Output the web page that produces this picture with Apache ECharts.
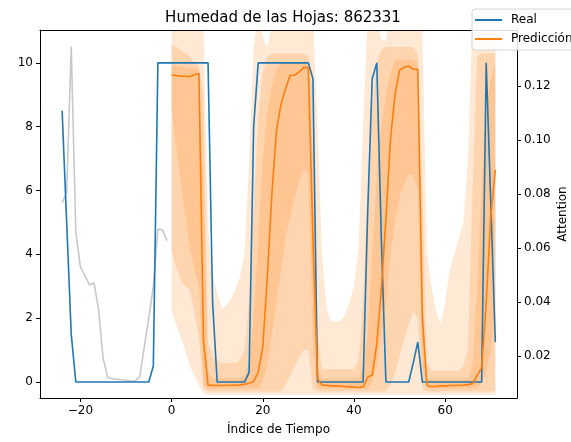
<!DOCTYPE html>
<html>
<head>
<meta charset="utf-8">
<script src="https://cdn.jsdelivr.net/npm/echarts@6/dist/echarts.min.js"></script>
<style>
  html, body { margin: 0; padding: 0; background: #fff; }
  #chart { width: 571px; height: 442px; }
</style>
</head>
<body>
<div id="chart"></div>
<script>
// Observed leaf-wetness values, starting at time index -24
const realStart = -24;
const realValues = [
  8.5, 5.0, 1.5,
  0, 0, 0, 0, 0, 0, 0, 0, 0, 0, 0, 0, 0, 0, 0, 0, 0,
  0.5,
  10, 10, 10, 10, 10, 10, 10, 10, 10, 10, 10, 10,
  2.5,
  0, 0, 0, 0, 0, 0, 0,
  0.3, 8.0,
  10, 10, 10, 10, 10, 10, 10, 10, 10, 10, 10, 10,
  9.5,
  0, 0, 0, 0, 0, 0, 0, 0, 0, 0, 0,
  5.3, 9.5, 10, 4.5,
  0, 0, 0, 0, 0, 0,
  0.6, 1.25,
  0, 0, 0, 0, 0, 0, 0, 0, 0, 0, 0, 0, 0, 0,
  10, 5.6, 1.25
];

// Median forecast, starting at time index 0
const predStart = 0;
const predValues = [
  9.62, 9.60, 9.58, 9.58, 9.57, 9.63, 9.67, 1.3,
  -0.1, -0.1, -0.11, -0.11, -0.1, -0.1, -0.1, -0.09,
  -0.07, -0.04, 0.02, 0.3, 1.1, 3.3, 5.9, 7.87,
  8.7, 9.2, 9.6, 9.62, 9.72, 9.86, 9.85, 4.5,
  0.1, -0.1, -0.1, -0.12, -0.12, -0.13, -0.14, -0.15,
  -0.16, -0.17, -0.15, 0.15, 0.22, 1.2, 2.9, 5.1,
  7.6, 9.0, 9.77, 9.86, 9.9, 9.8, 9.8, 2.0,
  -0.1, -0.15, -0.13, -0.12, -0.12, -0.11, -0.11, -0.1,
  -0.1, -0.08, -0.05, 0.2, 0.45, 2.5, 5.2, 6.65
];

// Forecast quantile bands (outer, middle, inner), same indices as the forecast
const outerLow = [
  2.2, 1.8, 1.4, 1.0, 0.5, 0.2, -0.1, -0.35,
  -0.4, -0.4, -0.4, -0.4, -0.4, -0.4, -0.4, -0.4,
  -0.4, -0.4, -0.4, -0.4, -0.4, -0.4, -0.4, -0.4,
  -0.4, -0.4, -0.4, -0.4, -0.4, -0.4, -0.4, -0.4,
  -0.4, -0.4, -0.4, -0.4, -0.4, -0.4, -0.4, -0.4,
  -0.4, -0.4, -0.4, -0.4, -0.4, -0.4, -0.4, -0.4,
  -0.4, -0.4, -0.4, -0.4, -0.4, -0.4, -0.4, -0.4,
  -0.4, -0.4, -0.4, -0.4, -0.4, -0.4, -0.4, -0.4,
  -0.4, -0.4, -0.4, -0.4, -0.4, -0.4, -0.4, -0.4
];
const outerHigh = [
  11.5, 11.5, 11.5, 11.5, 11.5, 11.5, 11.5, 11.0,
  4.8, 3.4, 2.8, 2.3, 2.4, 2.6, 2.9, 3.3,
  4.0, 6.9, 10.5, 11.5, 10.8, 10.5, 11.2, 11.5,
  11.5, 11.5, 11.5, 11.5, 11.5, 11.5, 11.5, 11.5,
  8.0, 4.0, 2.3, 1.9, 1.9, 1.9, 2.1, 2.5,
  3.0, 4.2, 8.0, 11.5, 11.5, 11.5, 10.7, 10.7,
  11.5, 11.5, 11.5, 11.5, 11.5, 11.5, 11.5, 11.0,
  4.0, 3.0, 2.2, 1.8, 2.5, 3.5, 4.0, 4.5,
  5.0, 7.0, 11.5, 11.5, 11.5, 11.5, 11.5, 11.5
];
const midLow = [
  4.1, 3.6, 3.2, 3.0, 2.9, 2.2, 1.4, -0.2,
  -0.3, -0.3, -0.3, -0.3, -0.3, -0.3, -0.3, -0.3,
  -0.3, -0.3, -0.3, -0.3, -0.3, -0.3, -0.3, -0.3,
  -0.3, -0.1, 0.2, 0.5, 0.8, 1.0, 1.0, -0.2,
  -0.3, -0.3, -0.3, -0.3, -0.3, -0.3, -0.3, -0.3,
  -0.3, -0.3, -0.3, -0.3, -0.3, -0.3, -0.3, -0.3,
  -0.1, 0.3, 0.8, 1.3, 1.8, 2.2, 2.0, -0.2,
  -0.3, -0.3, -0.3, -0.3, -0.3, -0.3, -0.3, -0.3,
  -0.3, -0.3, -0.3, -0.3, -0.3, -0.3, -0.3, -0.3
];
const midHigh = [
  10.6, 10.5, 10.4, 10.3, 10.2, 10.0, 9.9, 9.0,
  1.2, 0.8, 0.7, 0.6, 0.6, 0.6, 0.6, 0.7,
  1.0, 2.5, 5.5, 8.3, 9.7, 10.2, 10.3, 10.3,
  10.3, 10.3, 10.3, 10.3, 10.3, 10.3, 10.2, 9.0,
  1.5, 0.4, 0.4, 0.4, 0.4, 0.4, 0.4, 0.4,
  0.4, 0.7, 2.5, 6.0, 8.5, 10.0, 10.4, 10.5,
  10.5, 10.5, 10.5, 10.5, 10.5, 10.5, 10.3, 6.0,
  0.6, 0.35, 0.35, 0.35, 0.35, 0.35, 0.35, 0.35,
  0.5, 1.0, 6.0, 10.2, 10.3, 10.3, 10.3, 10.3
];
const innerLow = [
  8.6, 7.4, 6.3, 5.2, 4.2, 3.5, 3.0, -0.1,
  -0.2, -0.2, -0.2, -0.2, -0.2, -0.2, -0.2, -0.2,
  -0.2, -0.2, -0.2, -0.2, 0.0, 0.5, 1.5, 2.5,
  3.5, 4.5, 5.2, 5.8, 6.3, 6.7, 6.5, 1.0,
  -0.2, -0.2, -0.2, -0.2, -0.2, -0.2, -0.2, -0.2,
  -0.2, -0.2, -0.2, -0.2, 0.0, 0.5, 1.5, 2.5,
  4.0, 5.0, 5.8, 6.2, 6.5, 6.5, 6.0, 0.5,
  -0.2, -0.2, -0.2, -0.2, -0.2, -0.2, -0.2, -0.2,
  -0.2, -0.2, -0.2, -0.2, 0.0, 0.3, 1.0, 2.0
];
const innerHigh = [
  9.95, 9.9, 9.9, 9.85, 9.85, 9.85, 9.8, 6.0,
  0.3, 0.12, 0.12, 0.12, 0.12, 0.12, 0.12, 0.12,
  0.2, 0.6, 2.0, 4.5, 7.0, 8.5, 9.3, 9.8,
  10.0, 10.0, 10.0, 10.0, 10.0, 10.0, 10.0, 7.0,
  0.5, 0.1, 0.1, 0.1, 0.1, 0.1, 0.1, 0.1,
  0.1, 0.1, 0.4, 1.5, 4.0, 6.5, 8.0, 9.0,
  9.7, 10.1, 10.1, 10.1, 10.1, 10.1, 10.0, 3.0,
  0.1, 0.1, 0.1, 0.1, 0.1, 0.1, 0.1, 0.1,
  0.1, 0.1, 0.5, 3.0, 6.0, 8.5, 9.5, 10.0
];

// Attention weights over the input window, starting at time index -24
const attnStart = -24;
const attnValues = [
  0.0767, 0.0805, 0.1346, 0.066, 0.0531, 0.0498, 0.0463, 0.0471,
  0.037, 0.0191, 0.012, 0.0116, 0.0114, 0.0112, 0.011, 0.0108,
  0.0107, 0.0123, 0.0231, 0.034, 0.0457, 0.067, 0.0667, 0.0627
];

// Tick positions
const xTicks = [-20, 0, 20, 40, 60];
const yTicks = [0, 2, 4, 6, 8, 10];
const attnTicks = [0.02, 0.04, 0.06, 0.08, 0.10, 0.12];

const FONT = 'DejaVu Sans';
const BLUE = '#1f77b4';
const ORANGE = '#ff7f0e';
const BAND_FILL = 'rgba(255,127,14,0.18)';

const toPairs = (start, vals) => vals.map((v, i) => [start + i, v]);

// One filled polygon per band: upper edge left->right, lower edge right->left,
// every vertex mapped through the cartesian axes with api.coord.
function bandSeries(id, low, high) {
  return {
    name: id, type: 'custom', coordinateSystem: 'cartesian2d',
    xAxisIndex: 0, yAxisIndex: 0, clip: true, silent: true, z: 1,
    data: [[predStart, low[0]]],
    renderItem: function (params, api) {
      const pts = [];
      for (let i = 0; i < high.length; i++) pts.push(api.coord([predStart + i, high[i]]));
      for (let i = low.length - 1; i >= 0; i--) pts.push(api.coord([predStart + i, low[i]]));
      return {
        type: 'polygon',
        shape: { points: pts },
        style: { fill: BAND_FILL, stroke: null }
      };
    }
  };
}

const fmtMinus = v => (v < 0 ? '\u2212' + Math.abs(v) : String(v));
const tickLabel = { fontFamily: FONT, fontSize: 12, color: '#000' };

const chart = echarts.init(document.getElementById('chart'), null, { renderer: 'canvas' });

chart.setOption({
  animation: false,
  backgroundColor: '#fff',
  title: {
    text: 'Humedad de las Hojas: 862331',
    left: 278, top: 6, textAlign: 'center',
    textStyle: { fontFamily: FONT, fontSize: 15, fontWeight: 'normal', color: '#000' }
  },
  legend: {
    data: [{ name: 'Real', icon: 'rect' }, { name: 'Predicción', icon: 'rect' }],
    orient: 'vertical', left: 472, top: 9,
    itemWidth: 27, itemHeight: 2, itemGap: 7,
    padding: [5, 8, 5, 3],
    selectedMode: false,
    textStyle: { fontFamily: FONT, fontSize: 12, color: '#000', padding: [0, 0, 0, 4] },
    backgroundColor: 'rgba(255,255,255,0.85)',
    borderColor: '#d4d4d4', borderWidth: 1, borderRadius: 3,
    z: 20
  },
  grid: { left: 40, right: 54, top: 30, bottom: 44, containLabel: false, outerBoundsMode: 'none' },
  xAxis: [
    {
      type: 'value', min: -28.85, max: 75.75, position: 'bottom',
      name: 'Índice de Tiempo', nameLocation: 'middle', nameGap: 26,
      nameTextStyle: { fontFamily: FONT, fontSize: 12, color: '#000' },
      axisLine: { show: true, onZero: false, lineStyle: { color: '#000', width: 1 } },
      axisTick: { show: true, length: 4, customValues: xTicks, lineStyle: { color: '#000' } },
      axisLabel: Object.assign({ margin: 7, customValues: xTicks, formatter: fmtMinus }, tickLabel),
      splitLine: { show: false }, z: 10
    },
    {
      type: 'value', min: -28.85, max: 75.75, position: 'top',
      axisLine: { show: true, onZero: false, lineStyle: { color: '#000', width: 1 } },
      axisTick: { show: false }, axisLabel: { show: false }, splitLine: { show: false }, z: 10
    }
  ],
  yAxis: [
    {
      type: 'value', min: -0.5, max: 11.03, position: 'left',
      axisLine: { show: true, onZero: false, lineStyle: { color: '#000', width: 1 } },
      axisTick: { show: true, length: 4, customValues: yTicks, lineStyle: { color: '#000' } },
      axisLabel: Object.assign({ margin: 7, customValues: yTicks }, tickLabel),
      splitLine: { show: false }, z: 10
    },
    {
      type: 'value', min: 0.00444, max: 0.1407, position: 'right',
      name: 'Attention', nameLocation: 'middle', nameGap: 40, nameMoveOverlap: false,
      nameTextStyle: { fontFamily: FONT, fontSize: 12, color: '#000' },
      axisLine: { show: true, onZero: false, lineStyle: { color: '#000', width: 1 } },
      axisTick: { show: true, length: 4, customValues: attnTicks, lineStyle: { color: '#000' } },
      axisLabel: Object.assign({ margin: 7, customValues: attnTicks, formatter: v => v.toFixed(2) }, tickLabel),
      splitLine: { show: false }, z: 10
    }
  ],
  series: [
    bandSeries('outer', outerLow, outerHigh),
    bandSeries('middle', midLow, midHigh),
    bandSeries('inner', innerLow, innerHigh),
    {
      name: 'Attention', type: 'line', yAxisIndex: 1,
      data: toPairs(attnStart, attnValues),
      symbol: 'none', color: '#c8c8c8',
      lineStyle: { color: '#c8c8c8', width: 1.6 }, z: 2
    },
    {
      name: 'Real', type: 'line',
      data: toPairs(realStart, realValues),
      symbol: 'none', color: BLUE,
      lineStyle: { color: BLUE, width: 1.6 }, z: 3
    },
    {
      name: 'Predicción', type: 'line',
      data: toPairs(predStart, predValues),
      symbol: 'none', color: ORANGE,
      lineStyle: { color: ORANGE, width: 1.6 }, z: 4
    }
  ]
});
</script>
</body>
</html>
